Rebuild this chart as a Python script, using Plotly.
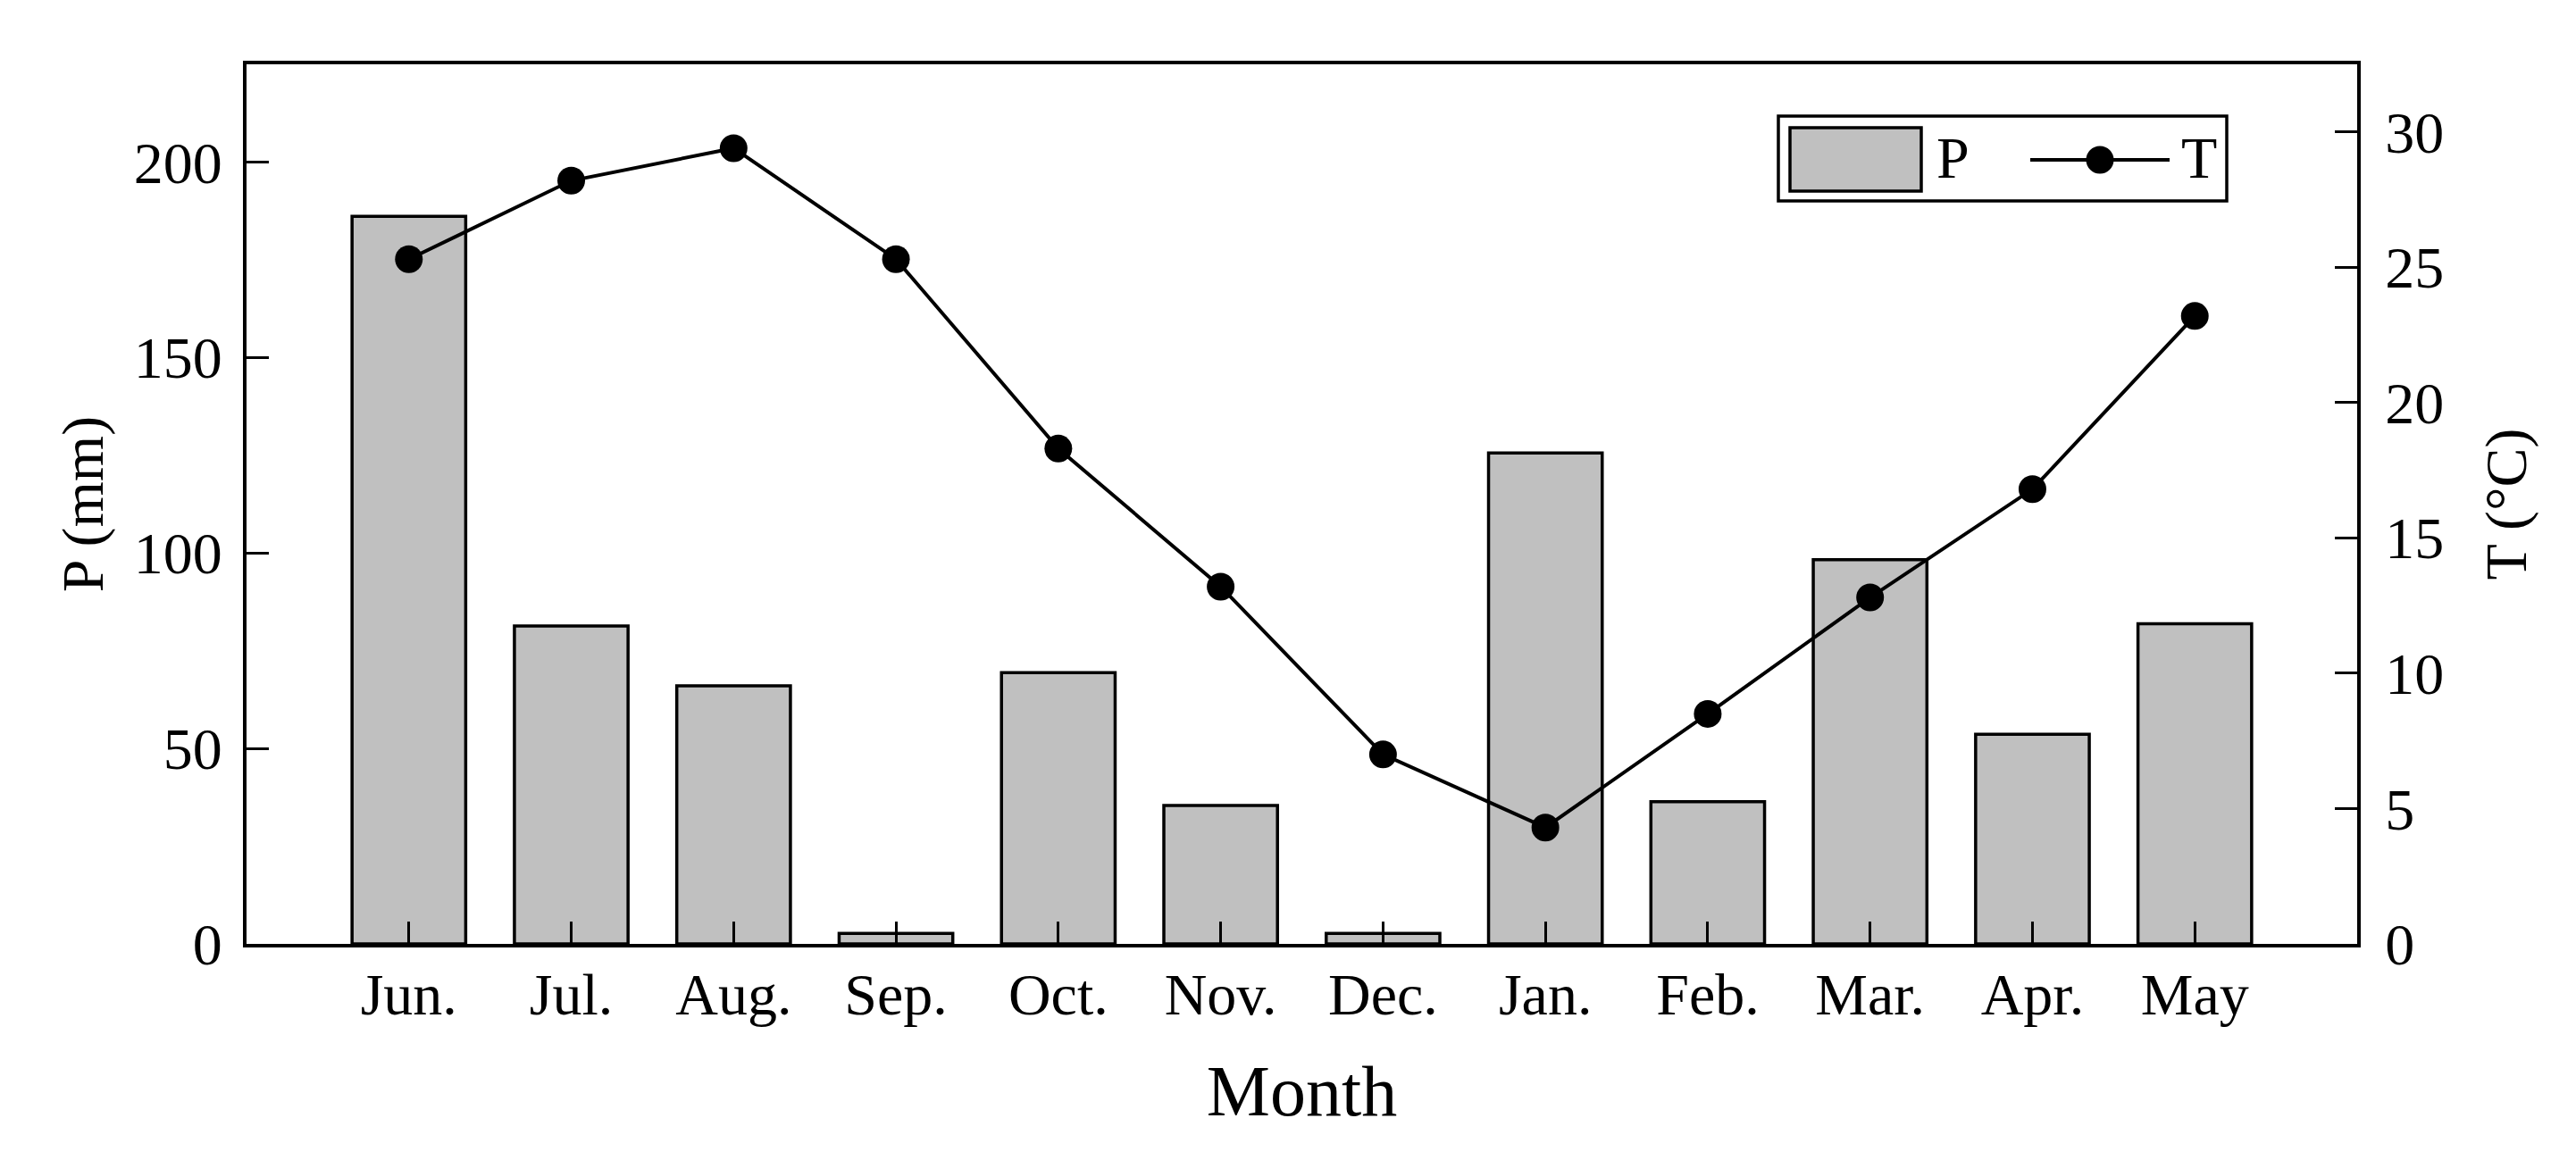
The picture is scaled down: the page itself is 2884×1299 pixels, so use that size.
import plotly.graph_objects as go

months = ["Jun.", "Jul.", "Aug.", "Sep.", "Oct.", "Nov.", "Dec.", "Jan.", "Feb.", "Mar.", "Apr.", "May"]
precip_mm = [186.1, 81.3, 66.0, 2.7, 69.4, 35.4, 2.7, 125.6, 36.4, 98.3, 53.6, 81.9]
temp_c = [25.3, 28.2, 29.4, 25.3, 18.3, 13.2, 7.0, 4.3, 8.5, 12.8, 16.8, 23.2]
p_ticks = [0, 50, 100, 150, 200]
t_ticks = [0, 5, 10, 15, 20, 25, 30]

FONT = "Liberation Serif"
W, H = 2884, 1299
OFF = 8  # page body margin offset
# plot area in page pixels
PX0, PX1, PY0, PY1 = 276, 2639, 72, 1057
L = PX0 - OFF
T = PY0 - OFF
R = (W + OFF) - PX1
B = (H + OFF) - PY1
PW, PH = PX1 - PX0, PY1 - PY0


def px_x(px):
    return (px - PX0) / PW


def px_y(py):
    return (PY1 - py) / PH


fig = go.Figure()
fig.add_trace(go.Bar(
    x=months, y=precip_mm, name="P", width=0.7,
    marker=dict(color="#c0c0c0", line=dict(color="black", width=3.5)),
    showlegend=False, yaxis="y",
))
fig.add_trace(go.Scatter(
    x=months, y=temp_c, name="T", mode="lines+markers",
    line=dict(color="black", width=4),
    marker=dict(color="black", size=31),
    showlegend=False, yaxis="y2",
))

tickfont = dict(family=FONT, size=66, color="black")
axis_common = dict(
    showgrid=False, zeroline=False, showline=True, linecolor="black", linewidth=4,
    ticks="inside", ticklen=25, tickwidth=3, tickcolor="black", tickfont=tickfont,
)

# custom legend (box, swatch, line with marker, labels)
shapes = [
    dict(type="rect", xref="paper", yref="paper",
         x0=px_x(1991), x1=px_x(2493), y0=px_y(225), y1=px_y(130),
         line=dict(color="black", width=3.5), fillcolor="white", layer="above"),
    dict(type="rect", xref="paper", yref="paper",
         x0=px_x(2004), x1=px_x(2151), y0=px_y(214), y1=px_y(143),
         line=dict(color="black", width=3.5), fillcolor="#c0c0c0", layer="above"),
    dict(type="line", xref="paper", yref="paper",
         x0=px_x(2273), x1=px_x(2429), y0=px_y(179), y1=px_y(179),
         line=dict(color="black", width=4), layer="above"),
    dict(type="circle", xref="paper", yref="paper",
         x0=px_x(2351 - 15.5), x1=px_x(2351 + 15.5), y0=px_y(179 + 15.5), y1=px_y(179 - 15.5),
         line=dict(color="black", width=0), fillcolor="black", layer="above"),
]
annotations = [
    dict(text="P", xref="paper", yref="paper", x=px_x(2166), y=px_y(176),
         xanchor="left", yanchor="middle", showarrow=False, font=tickfont),
    dict(text="T", xref="paper", yref="paper", x=px_x(2440), y=px_y(176),
         xanchor="left", yanchor="middle", showarrow=False, font=tickfont),
]

fig.update_layout(
    width=W, height=H, autosize=False,
    margin=dict(l=L, r=R, t=T, b=B),
    paper_bgcolor="white", plot_bgcolor="white",
    bargap=0.3,
    xaxis=dict(
        type="category", range=[-1, 12], mirror=True,
        title=dict(text="Month", font=dict(family=FONT, size=80, color="black"), standoff=45),
        ticklabelstandoff=-4,
        **axis_common,
    ),
    yaxis=dict(
        range=[0, 225], tickvals=p_ticks,
        title=dict(text="P (mm)", font=tickfont, standoff=14),
        ticklabelstandoff=10,
        **axis_common,
    ),
    yaxis2=dict(
        range=[0, 32.5], tickvals=t_ticks, overlaying="y", side="right",
        title=dict(text="T (°C)", font=tickfont, standoff=48),
        ticklabelstandoff=14,
        **axis_common,
    ),
    shapes=shapes,
    annotations=annotations,
)

fig.write_html("out.html")
